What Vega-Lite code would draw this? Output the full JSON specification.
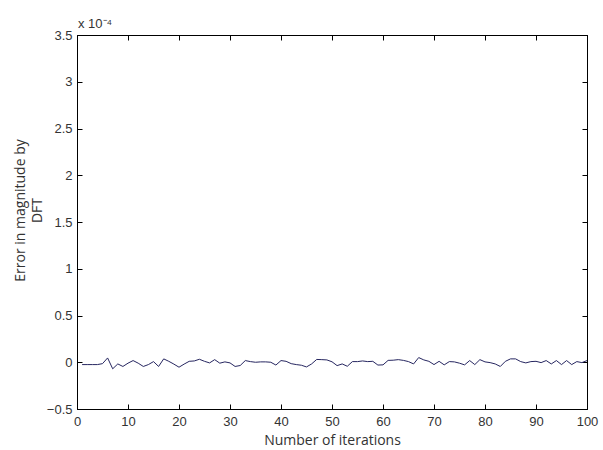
{
  "$schema": "https://vega.github.io/schema/vega-lite/v6.json",
  "width": 510,
  "height": 374,
  "autosize": "none",
  "padding": {"left": 77, "top": 35, "right": 16, "bottom": 41},
  "background": "white",
  "title": {"text": "x 10⁻⁴", "anchor": "start", "frame": "group", "font": "Liberation Sans", "fontSize": 13, "fontWeight": "normal", "color": "#333", "offset": -2, "dx": 1},
  "config": {"view": {"stroke": "#000", "strokeWidth": 1}},
  "data": {"values": [
    {"iteration": 1, "error": -0.025}, {"iteration": 2, "error": -0.025}, {"iteration": 3, "error": -0.025}, {"iteration": 4, "error": -0.025}, {"iteration": 5, "error": -0.015},
    {"iteration": 6, "error": 0.046}, {"iteration": 7, "error": -0.07}, {"iteration": 8, "error": -0.018}, {"iteration": 9, "error": -0.045}, {"iteration": 10, "error": -0.01},
    {"iteration": 11, "error": 0.018}, {"iteration": 12, "error": -0.01}, {"iteration": 13, "error": -0.045}, {"iteration": 14, "error": -0.025}, {"iteration": 15, "error": 0.007},
    {"iteration": 16, "error": -0.045}, {"iteration": 17, "error": 0.036}, {"iteration": 18, "error": 0.01}, {"iteration": 19, "error": -0.02}, {"iteration": 20, "error": -0.053},
    {"iteration": 21, "error": -0.02}, {"iteration": 22, "error": 0.01}, {"iteration": 23, "error": 0.014}, {"iteration": 24, "error": 0.032}, {"iteration": 25, "error": 0.01},
    {"iteration": 26, "error": -0.007}, {"iteration": 27, "error": 0.028}, {"iteration": 28, "error": -0.01}, {"iteration": 29, "error": 0.004}, {"iteration": 30, "error": -0.007},
    {"iteration": 31, "error": -0.045}, {"iteration": 32, "error": -0.035}, {"iteration": 33, "error": 0.018}, {"iteration": 34, "error": 0.007}, {"iteration": 35, "error": 0.0},
    {"iteration": 36, "error": 0.004}, {"iteration": 37, "error": 0.004}, {"iteration": 38, "error": 0.0}, {"iteration": 39, "error": -0.03}, {"iteration": 40, "error": 0.018},
    {"iteration": 41, "error": 0.01}, {"iteration": 42, "error": -0.015}, {"iteration": 43, "error": -0.025}, {"iteration": 44, "error": -0.032}, {"iteration": 45, "error": -0.05},
    {"iteration": 46, "error": -0.018}, {"iteration": 47, "error": 0.03}, {"iteration": 48, "error": 0.028}, {"iteration": 49, "error": 0.025}, {"iteration": 50, "error": 0.005},
    {"iteration": 51, "error": -0.036}, {"iteration": 52, "error": -0.018}, {"iteration": 53, "error": -0.043}, {"iteration": 54, "error": 0.007}, {"iteration": 55, "error": 0.007},
    {"iteration": 56, "error": 0.014}, {"iteration": 57, "error": 0.007}, {"iteration": 58, "error": 0.01}, {"iteration": 59, "error": -0.03}, {"iteration": 60, "error": -0.028},
    {"iteration": 61, "error": 0.02}, {"iteration": 62, "error": 0.022}, {"iteration": 63, "error": 0.028}, {"iteration": 64, "error": 0.02}, {"iteration": 65, "error": 0.007},
    {"iteration": 66, "error": -0.018}, {"iteration": 67, "error": 0.05}, {"iteration": 68, "error": 0.025}, {"iteration": 69, "error": 0.01}, {"iteration": 70, "error": -0.025},
    {"iteration": 71, "error": 0.01}, {"iteration": 72, "error": -0.028}, {"iteration": 73, "error": 0.007}, {"iteration": 74, "error": 0.004}, {"iteration": 75, "error": -0.01},
    {"iteration": 76, "error": -0.028}, {"iteration": 77, "error": 0.018}, {"iteration": 78, "error": -0.025}, {"iteration": 79, "error": 0.028}, {"iteration": 80, "error": 0.004},
    {"iteration": 81, "error": -0.004}, {"iteration": 82, "error": -0.018}, {"iteration": 83, "error": -0.045}, {"iteration": 84, "error": 0.01}, {"iteration": 85, "error": 0.036},
    {"iteration": 86, "error": 0.036}, {"iteration": 87, "error": 0.007}, {"iteration": 88, "error": -0.007}, {"iteration": 89, "error": 0.007}, {"iteration": 90, "error": 0.01},
    {"iteration": 91, "error": -0.004}, {"iteration": 92, "error": 0.018}, {"iteration": 93, "error": -0.018}, {"iteration": 94, "error": 0.018}, {"iteration": 95, "error": -0.025},
    {"iteration": 96, "error": 0.018}, {"iteration": 97, "error": -0.025}, {"iteration": 98, "error": 0.007}, {"iteration": 99, "error": -0.004}, {"iteration": 100, "error": 0.018}
  ]},
  "layer": [
    {
      "mark": {"type": "line", "color": "#262660", "strokeWidth": 1, "clip": true},
      "encoding": {
        "x": {
          "field": "iteration", "type": "quantitative",
          "scale": {"domain": [0, 100], "nice": false, "zero": false},
          "axis": {
            "title": "Number of iterations", "values": [0, 10, 20, 30, 40, 50, 60, 70, 80, 90, 100],
            "grid": false, "domain": true, "domainColor": "#000", "tickColor": "#000", "tickSize": -5,
            "labelFont": "Liberation Sans", "labelFontSize": 13, "labelColor": "#333", "labelPadding": 11, "labelFlush": false,
            "titleFont": "Open Sans", "titleFontSize": 14, "titleFontWeight": "normal", "titleColor": "#333", "titlePadding": 5
          }
        },
        "y": {
          "field": "error", "type": "quantitative",
          "scale": {"domain": [-0.5, 3.5], "nice": false, "zero": false},
          "axis": {
            "title": ["Error in magnitude by", "DFT"], "values": [-0.5, 0, 0.5, 1, 1.5, 2, 2.5, 3, 3.5],
            "format": "~g",
            "grid": false, "domain": true, "domainColor": "#000", "tickColor": "#000", "tickSize": -5,
            "labelFont": "Liberation Sans", "labelFontSize": 13, "labelColor": "#333", "labelPadding": 10, "labelFlush": false,
            "titleFont": "Open Sans", "titleFontSize": 14, "titleFontWeight": "normal", "titleColor": "#333", "titlePadding": 2, "titleLineHeight": 17, "titleY": 175
          }
        }
      }
    },
    {
      "mark": {"type": "rule", "opacity": 0},
      "encoding": {
        "x": {"field": "iteration", "type": "quantitative", "axis": {"orient": "top", "values": [0, 10, 20, 30, 40, 50, 60, 70, 80, 90, 100], "labels": false, "title": null, "grid": false, "domainColor": "#000", "tickColor": "#000", "tickSize": -5}},
        "y": {"field": "error", "type": "quantitative", "axis": {"orient": "right", "values": [-0.5, 0, 0.5, 1, 1.5, 2, 2.5, 3, 3.5], "labels": false, "title": null, "grid": false, "domainColor": "#000", "tickColor": "#000", "tickSize": -5}}
      }
    }
  ],
  "resolve": {"axis": {"x": "independent", "y": "independent"}}
}
